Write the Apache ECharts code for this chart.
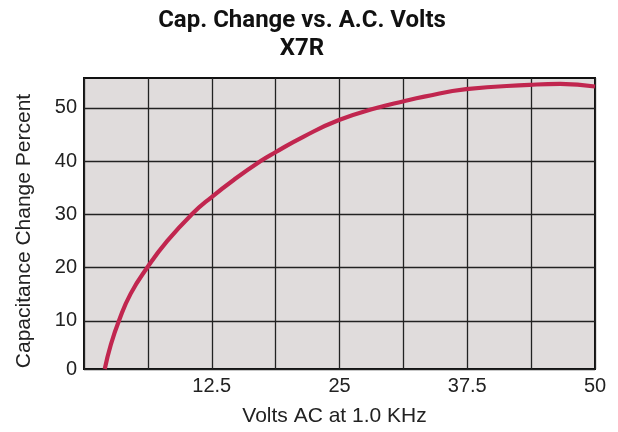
<!DOCTYPE html>
<html>
<head>
<meta charset="utf-8">
<script src="https://cdn.jsdelivr.net/npm/echarts@6/dist/echarts.min.js"></script>
<style>
  html, body { margin: 0; padding: 0; background: #ffffff; }
  #chart { width: 618px; height: 432px; }
</style>
</head>
<body>
<div id="chart"></div>
<script>
// Capacitance change of an X7R capacitor versus applied AC voltage (1.0 KHz)
const voltsAC = [2.03, 2.61, 3.42, 4.57, 6.19, 8.15, 10.6, 12.46, 14.68, 17.29, 18.69, 21.5, 24.95, 28.7, 31.2, 33.3, 37.4, 43.6, 46.6, 50];
const capChangePct = [0.94, 5.4, 10, 15.1, 20, 25.0, 30.1, 33.2, 36.5, 40, 41.6, 44.6, 47.7, 50, 51.2, 52.1, 53.5, 54.3, 54.5, 54.0];

const Y_MIN = 0.94;
const Y_MAX = 55.6;
const yTickValues = [Y_MIN, 10, 20, 30, 40, 50];
const X_STEP = 6.25;

const chart = echarts.init(document.getElementById('chart'), null, { renderer: 'canvas' });

chart.setOption({
  animation: false,
  title: {
    text: 'Cap. Change vs. A.C. Volts\nX7R',
    left: 297,
    textAlign: 'center',
    top: 2,
    textStyle: {
      fontFamily: 'Roboto',
      fontWeight: 'bold',
      fontSize: 24,
      lineHeight: 28,
      color: '#111'
    }
  },
  grid: {
    left: 84, right: 23, top: 78, bottom: 62,
    show: true,
    backgroundColor: '#e0dcdc',
    borderColor: '#111',
    borderWidth: 2
  },
  xAxis: {
    type: 'value',
    min: 0, max: 50, interval: X_STEP,
    name: 'Volts AC at 1.0 KHz',
    nameLocation: 'middle',
    nameGap: 37,
    nameTextStyle: { fontFamily: 'Liberation Sans', fontSize: 21, color: '#222', padding: [0, 10, 0, 0] },
    axisLine: { show: false },
    axisTick: { show: false },
    axisLabel: {
      margin: 7,
      fontFamily: 'Liberation Sans', fontSize: 20, color: '#222',
      formatter: v => (v > 0 && Math.abs(v / 12.5 - Math.round(v / 12.5)) < 1e-9) ? String(v) : ''
    },
    splitLine: { show: true, lineStyle: { color: '#222', width: 1.3 } }
  },
  yAxis: {
    type: 'value',
    min: Y_MIN, max: Y_MAX,
    name: 'Capacitance Change Percent',
    nameLocation: 'middle',
    nameGap: 49,
    nameTextStyle: { fontFamily: 'Liberation Sans', fontSize: 21, color: '#222', padding: [0, 15, 0, 0] },
    axisLine: { show: false },
    axisTick: { show: false, customValues: yTickValues },
    axisLabel: {
      customValues: yTickValues,
      margin: 7,
      fontFamily: 'Liberation Sans', fontSize: 20, color: '#222',
      formatter: v => String(Math.round(v / 10) * 10)
    },
    splitLine: { show: true, lineStyle: { color: '#222', width: 1.3 } }
  },
  series: [{
    type: 'line',
    data: voltsAC.map((x, i) => [x, capChangePct[i]]),
    smooth: 0.5,
    showSymbol: false,
    lineStyle: { color: '#c1264f', width: 4.2 },
    clip: true
  }]
});
</script>
</body>
</html>
